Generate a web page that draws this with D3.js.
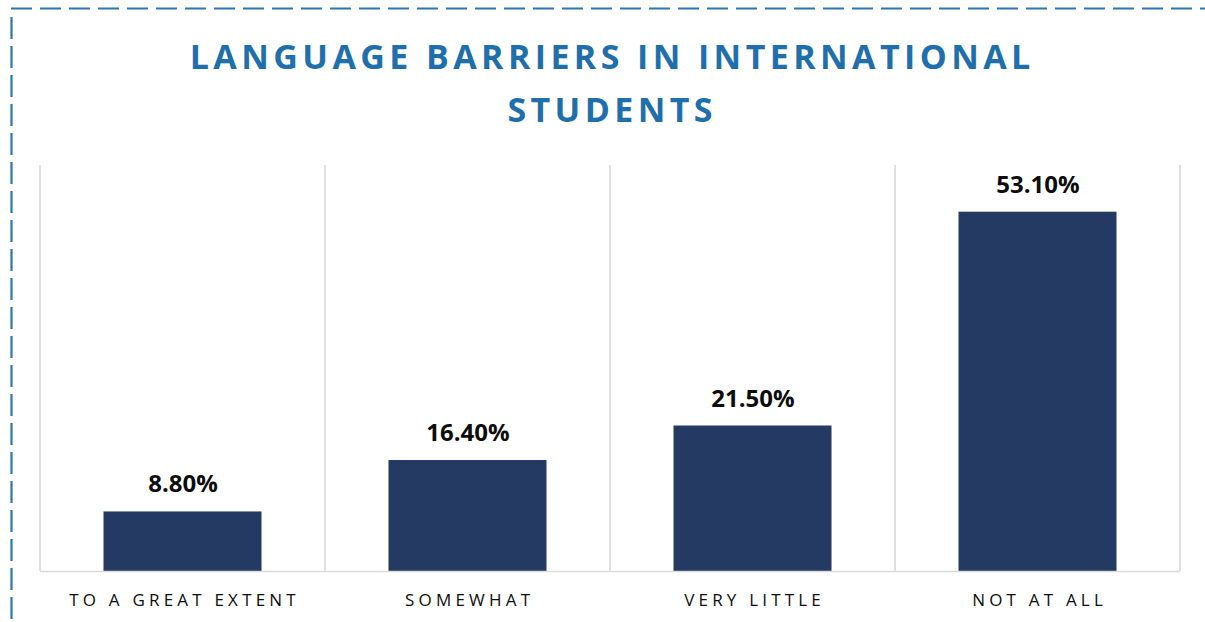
<!DOCTYPE html>
<html>
<head>
<meta charset="utf-8">
<script src="https://cdn.jsdelivr.net/npm/d3@7"></script>
<style>
  html, body { margin: 0; padding: 0; background: #fff; }
  svg { display: block; }
</style>
</head>
<body>
<svg id="chart" width="1205" height="622"></svg>
<script>
const titleLines = ["LANGUAGE BARRIERS IN INTERNATIONAL", "STUDENTS"];
const categories = ["TO A GREAT EXTENT", "SOMEWHAT", "VERY LITTLE", "NOT AT ALL"];
const values = [8.8, 16.4, 21.5, 53.1];
const valueLabels = ["8.80%", "16.40%", "21.50%", "53.10%"];
const yDomain = [0, 60];

const svg = d3.select("#chart");
const W = 1205, H = 622;
const plot = { left: 40, right: 1180, top: 165, bottom: 571 };

// dashed frame (top and left)
svg.append("line")
  .attr("x1", 11).attr("y1", 8.5).attr("x2", W).attr("y2", 8.5)
  .attr("stroke", "#2E75B6").attr("stroke-width", 2.2)
  .attr("stroke-dasharray", "21,8");
svg.append("line")
  .attr("x1", 11.5).attr("y1", 17).attr("x2", 11.5).attr("y2", H)
  .attr("stroke", "#2E75B6").attr("stroke-width", 2.2)
  .attr("stroke-dasharray", "22,7");

// title
const titleLS = 4.4;
const title = svg.append("text")
  .attr("text-anchor", "middle")
  .attr("font-family", "'Open Sans', sans-serif")
  .attr("font-weight", 700)
  .attr("font-size", 34)
  .attr("letter-spacing", titleLS)
  .attr("fill", "#1F6FAD");
titleLines.forEach((t, i) => {
  title.append("tspan")
    .attr("x", 610 + titleLS / 2)
    .attr("y", 69 + i * 53)
    .text(t);
});

const x = d3.scaleBand().domain(categories).range([plot.left, plot.right]).paddingInner(0).paddingOuter(0);
const y = d3.scaleLinear().domain(yDomain).range([plot.bottom, plot.top]);
const barW = 158;

// vertical category gridlines
const gridX = categories.map(c => x(c)).concat([x(categories[categories.length - 1]) + x.bandwidth()]);
svg.append("g").selectAll("line").data(gridX).join("line")
  .attr("x1", d => d).attr("x2", d => d)
  .attr("y1", plot.top).attr("y2", plot.bottom)
  .attr("stroke", "#D9D9D9").attr("stroke-width", 1.6);

// bars
svg.append("g").selectAll("rect").data(values).join("rect")
  .attr("x", (d, i) => x(categories[i]) + x.bandwidth() / 2 - barW / 2)
  .attr("width", barW)
  .attr("y", d => y(d))
  .attr("height", d => y(0) - y(d))
  .attr("fill", "#243A63");

// baseline
svg.append("line")
  .attr("x1", plot.left).attr("x2", plot.right)
  .attr("y1", plot.bottom + 0.5).attr("y2", plot.bottom + 0.5)
  .attr("stroke", "#D9D9D9").attr("stroke-width", 1.6);

// value labels
svg.append("g").selectAll("text").data(values).join("text")
  .attr("x", (d, i) => x(categories[i]) + x.bandwidth() / 2 + 0.5)
  .attr("y", d => y(d) - 19)
  .attr("text-anchor", "middle")
  .attr("font-family", "'Open Sans', sans-serif")
  .attr("font-weight", 700)
  .attr("font-size", 24)
  .attr("fill", "#0D0D0D")
  .text((d, i) => valueLabels[i]);

// category labels
const ls = 4.2;
svg.append("g").selectAll("text").data(categories).join("text")
  .attr("x", d => x(d) + x.bandwidth() / 2 + ls / 2)
  .attr("y", 606)
  .attr("text-anchor", "middle")
  .attr("font-family", "'Open Sans', sans-serif")
  .attr("font-weight", 400)
  .attr("font-size", 17)
  .attr("letter-spacing", ls)
  .attr("fill", "#0D0D0D")
  .text(d => d);
</script>
</body>
</html>
